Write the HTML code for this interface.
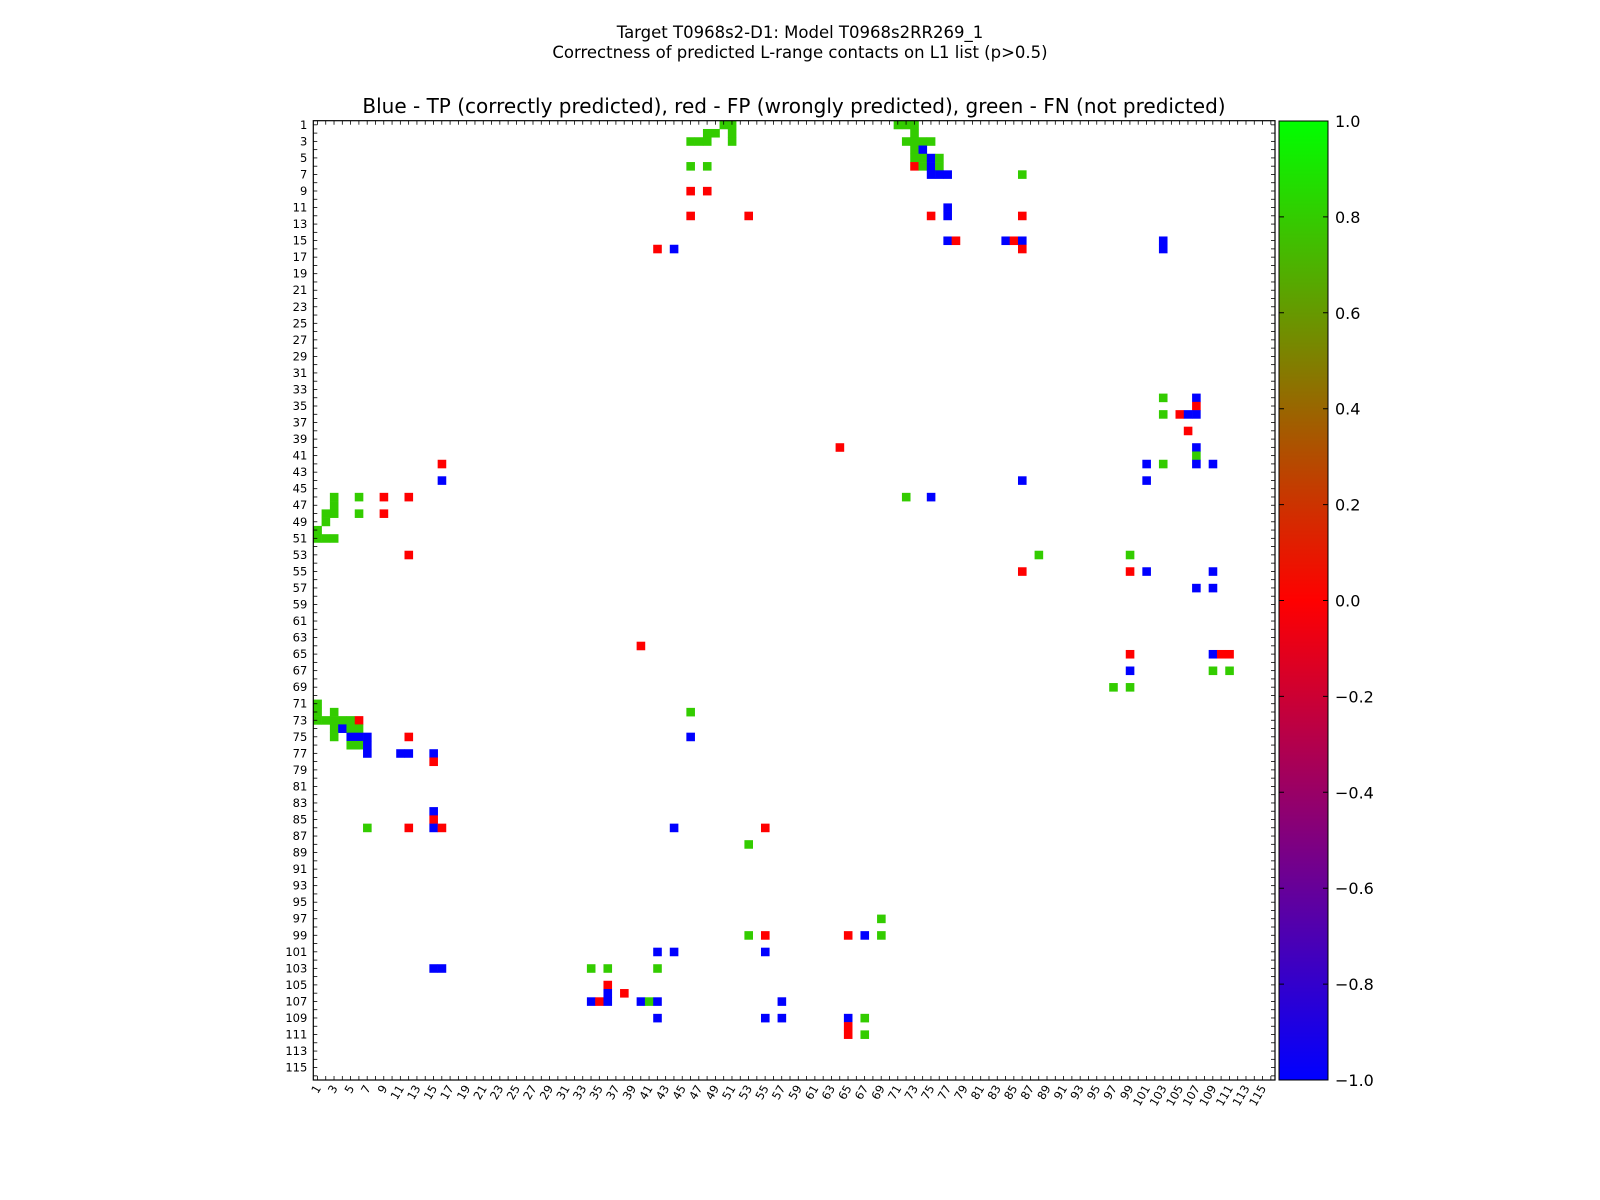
<!DOCTYPE html>
<html><head><meta charset="utf-8"><style>
body{margin:0;background:#fff;}
svg{display:block;font-family:"DejaVu Sans","Liberation Sans",sans-serif;}
</style></head><body>
<svg id="chart" width="1600" height="1200" viewBox="0 0 1600 1200">
<defs><linearGradient id="cbg" x1="0" y1="1" x2="0" y2="0">
<stop offset="0" stop-color="#0000ff"/><stop offset="0.5" stop-color="#ff0000"/><stop offset="1" stop-color="#00ff00"/></linearGradient></defs>
<text x="800" y="38" font-size="16.5" text-anchor="middle">Target T0968s2-D1: Model T0968s2RR269_1</text>
<text x="800" y="58" font-size="16.5" text-anchor="middle">Correctness of predicted L-range contacts on L1 list (p&gt;0.5)</text>
<text x="794" y="113" font-size="20" text-anchor="middle">Blue - TP (correctly predicted), red - FP (wrongly predicted), green - FN (not predicted)</text>
<g id="cells"></g>
<g id="axes"></g>
<rect x="1279" y="121" width="49" height="959" fill="url(#cbg)" stroke="#000" stroke-width="1"/>
<g id="cbticks"></g>
</svg>
<script>
const N = 116;
const cellRows = [1,1,1,1,1, 2,2,2,2, 3,3,3,3,3,3,3,3, 4,4, 5,5,5,5, 6,6,6,6,6,6, 7,7,7,7, 9,9, 11, 12,12,12,12,12, 15,15,15,15,15,15, 16,16,16,16, 34,34, 35, 36,36,36,36, 38, 40,40, 41, 42,42,42,42,42, 44,44,44, 46,46,46,46,46,46, 47, 48,48,48,48, 49, 50, 51,51,51, 53,53,53, 55,55,55,55, 57,57, 64, 65,65,65,65, 67,67,67, 69,69, 71, 72,72,72, 73,73,73,73,73,73, 74,74,74,74, 75,75,75,75,75,75, 76,76,76, 77,77,77,77, 78, 84, 85, 86,86,86,86,86,86, 88, 97, 99,99,99,99,99, 101,101,101, 103,103,103,103,103, 105, 106,106, 107,107,107,107,107,107,107, 109,109,109,109,109, 110, 111,111];
const cellCols = [50,51,71,72,73, 48,49,51,73, 46,47,48,51,72,73,74,75, 73,74, 73,74,75,76, 46,48,73,74,75,76, 75,76,77,86, 46,48, 77, 46,53,75,77,86, 77,78,84,85,86,103, 42,44,86,103, 103,107, 107, 103,105,106,107, 106, 64,107, 107, 16,101,103,107,109, 16,86,101, 3,6,9,12,72,75, 3, 2,3,6,9, 2, 1, 1,2,3, 12,88,99, 86,99,101,109, 107,109, 40, 99,109,110,111, 99,109,111, 97,99, 1, 1,3,46, 1,2,3,4,5,6, 3,4,5,6, 3,5,6,7,12,46, 5,6,7, 7,11,12,15, 15, 15, 15, 7,12,15,16,44,55, 53, 69, 53,55,65,67,69, 42,44,55, 15,16,34,36,42, 36, 36,38, 34,35,36,40,41,42,57, 42,55,57,65,67, 65, 65,67];
const cellVals = [0.8,0.8,0.8,0.8,0.8, 0.8,0.8,0.8,0.8, 0.8,0.8,0.8,0.8,0.8,0.8,0.8,0.8, 0.8,-1, 0.8,0.8,-1,0.8, 0.8,0.8,0,0.8,-1,0.8, -1,-1,-1,0.8, 0,0, -1, 0,0,0,-1,0, -1,0,-1,0,-1,-1, 0,-1,0,-1, 0.8,-1, 0, 0.8,0,-1,-1, 0, 0,-1, 0.8, 0,-1,0.8,-1,-1, -1,-1,-1, 0.8,0.8,0,0,0.8,-1, 0.8, 0.8,0.8,0.8,0, 0.8, 0.8, 0.8,0.8,0.8, 0,0.8,0.8, 0,0,-1,-1, -1,-1, 0, 0,-1,0,0, -1,0.8,0.8, 0.8,0.8, 0.8, 0.8,0.8,0.8, 0.8,0.8,0.8,0.8,0.8,0, 0.8,-1,0.8,0.8, 0.8,-1,-1,-1,0,-1, 0.8,0.8,-1, -1,-1,-1,-1, 0, -1, 0, 0.8,0,-1,0,-1,0, 0.8, 0.8, 0.8,0,0,-1,0.8, -1,-1,-1, -1,-1,0.8,0.8,0.8, 0, -1,0, -1,0,-1,-1,0.8,-1,-1, -1,-1,-1,-1,0.8, 0, 0,0.8];
const tickLabels = []; for (let i = 1; i <= 115; i += 2) tickLabels.push(i);
const cbTicks = [1.0,0.8,0.6,0.4,0.2,0.0,-0.2,-0.4,-0.6,-0.8,-1.0];

const X0 = 313.3, X1 = 1275, Y0 = 120.7, Y1 = 1080;
const cw = (X1 - X0) / N, ch = (Y1 - Y0) / N;
function xs(c){ return X0 + (c - 1) * cw; }
function ys(r){ return Y0 + (r - 1) * ch; }
function color(v){
  let r,g,b;
  if (v >= 0){ r = 255*(1-v); g = 255*v; b = 0; }
  else { const t = -v; r = 255*(1-t); g = 0; b = 255*t; }
  return `rgb(${Math.round(r)},${Math.round(g)},${Math.round(b)})`;
}
const NS = "http://www.w3.org/2000/svg";
const cells = document.getElementById('cells');
for (let i = 0; i < cellRows.length; i++){
  const el = document.createElementNS(NS,'rect');
  el.setAttribute('x', xs(cellCols[i]).toFixed(2));
  el.setAttribute('y', ys(cellRows[i]).toFixed(2));
  el.setAttribute('width', (cw+0.3).toFixed(2));
  el.setAttribute('height', (ch+0.3).toFixed(2));
  el.setAttribute('fill', color(cellVals[i]));
  
  
  cells.appendChild(el);
}
const axes = document.getElementById('axes');
let html = `<rect x="${X0}" y="${Y0}" width="${X1-X0}" height="${Y1-Y0}" fill="none" stroke="#000" stroke-width="1.2"/>`;
for (let i = 1; i <= N; i++){
  const cx = X0 + (i-0.5)*cw, cy = Y0 + (i-0.5)*ch;
  html += `<line x1="${cx}" y1="${Y0}" x2="${cx}" y2="${Y0+4}" stroke="#000" stroke-width="0.8"/>`;
  html += `<line x1="${cx}" y1="${Y1}" x2="${cx}" y2="${Y1-4}" stroke="#000" stroke-width="0.8"/>`;
  html += `<line x1="${X0}" y1="${cy}" x2="${X0+4}" y2="${cy}" stroke="#000" stroke-width="0.8"/>`;
  html += `<line x1="${X1}" y1="${cy}" x2="${X1-4}" y2="${cy}" stroke="#000" stroke-width="0.8"/>`;
}
axes.innerHTML = html;
for (const t of tickLabels){
  const cx = X0 + (t-0.5)*cw, cy = Y0 + (t-0.5)*ch;
  const ty = document.createElementNS(NS,'text');
  ty.setAttribute('x', X0-6); ty.setAttribute('y', cy+4);
  ty.setAttribute('font-size','11.5'); ty.setAttribute('text-anchor','end');
  ty.textContent = t;
  
  
  axes.appendChild(ty);
  const tx = document.createElementNS(NS,'text');
  tx.setAttribute('transform', `translate(${cx+4},${Y1+8}) rotate(-60)`);
  tx.setAttribute('font-size','11.5'); tx.setAttribute('text-anchor','end');
  tx.textContent = t;
  
  
  axes.appendChild(tx);
}
const cb = document.getElementById('cbticks');
for (const v of cbTicks){
  const y = 121 + (1 - v)/2 * 959;
  const l = document.createElementNS(NS,'path');
  l.setAttribute('d', `M1279 ${y}h5M1328 ${y}h-5`);
  l.setAttribute('stroke','#000');
  
  
  cb.appendChild(l);
  const t = document.createElementNS(NS,'text');
  t.setAttribute('x', 1335); t.setAttribute('y', y+6);
  t.setAttribute('font-size','16');
  t.textContent = (v < 0 ? '\u2212' : '') + Math.abs(v).toFixed(1);
  
  
  cb.appendChild(t);
}
</script>
</body></html>
